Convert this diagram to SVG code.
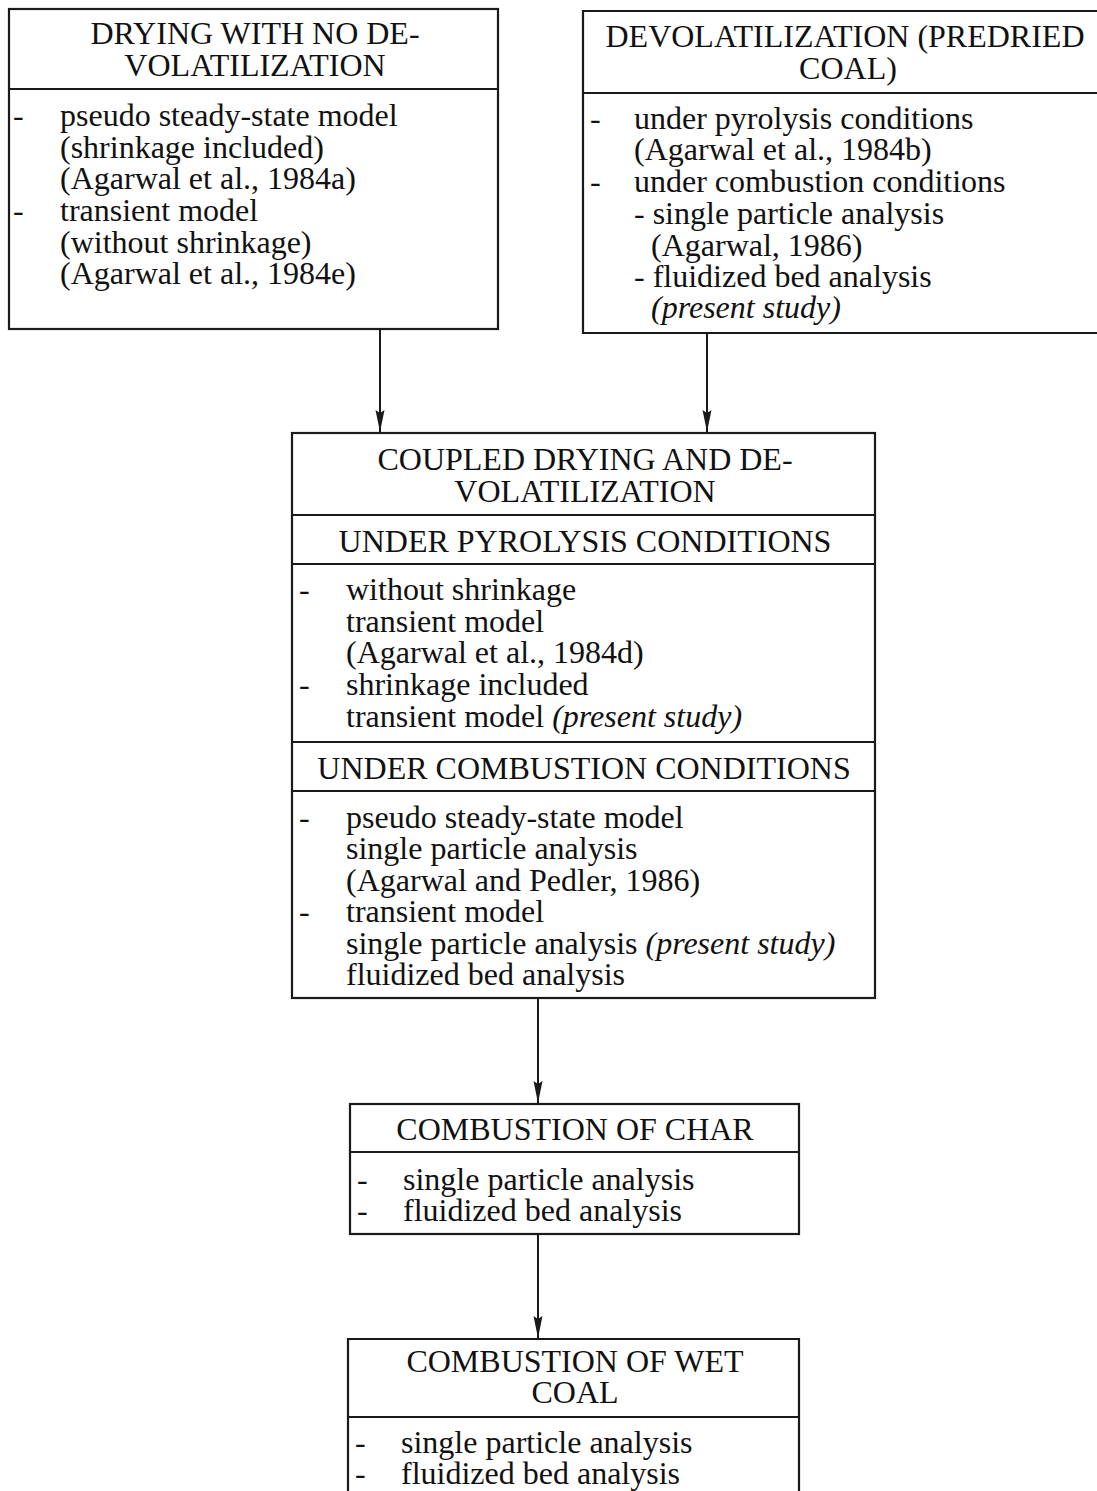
<svg xmlns="http://www.w3.org/2000/svg" width="1097" height="1491" viewBox="0 0 1097 1491">
<defs>
<style>
.box{fill:none;stroke:#1a1a1a;stroke-width:2.2}
.ln{stroke:#1a1a1a;stroke-width:2.2}
text{font-family:"Liberation Serif","Times New Roman",serif;font-size:32px;fill:#111}
.c{text-anchor:middle}
.i{font-style:italic}
.conn{stroke:#1a1a1a;stroke-width:2;fill:none;marker-end:url(#ah)}
</style>
<marker id="ah" markerWidth="22" markerHeight="10" refX="22" refY="5" orient="auto" markerUnits="userSpaceOnUse" viewBox="0 0 22 10">
<path d="M0,0.5 L22,5 L0,9.5 L3,5 Z" fill="#1a1a1a"/>
</marker>
</defs>
<rect width="1097" height="1491" fill="#fff"/>

<g id="connectors">
<line class="conn" x1="380" y1="330" x2="380" y2="432"/>
<line class="conn" x1="707" y1="334" x2="707" y2="432"/>
<line class="conn" x1="538" y1="998" x2="538" y2="1103"/>
<line class="conn" x1="538" y1="1235" x2="538" y2="1338"/>
</g>

<g id="drying">
<rect class="box" x="9" y="9" width="489" height="320"/>
<line class="ln" x1="9" y1="89" x2="498" y2="89"/>
<text class="c" x="255" y="44">DRYING WITH NO DE-</text>
<text class="c" x="255" y="76">VOLATILIZATION</text>
<text x="13" y="126">-</text>
<text x="60" y="126">pseudo steady-state model</text>
<text x="60" y="158">(shrinkage included)</text>
<text x="60" y="189">(Agarwal et al., 1984a)</text>
<text x="13" y="221">-</text>
<text x="60" y="221">transient model</text>
<text x="60" y="253">(without shrinkage)</text>
<text x="60" y="284">(Agarwal et al., 1984e)</text>
</g>

<g id="devolatilization">
<path class="box" d="M1110,11 L583,11 L583,333 L1110,333"/>
<line class="ln" x1="583" y1="93" x2="1110" y2="93"/>
<text class="c" x="845" y="47">DEVOLATILIZATION (PREDRIED</text>
<text class="c" x="848" y="79">COAL)</text>
<text x="590" y="129">-</text>
<text x="634" y="129">under pyrolysis conditions</text>
<text x="634" y="160">(Agarwal et al., 1984b)</text>
<text x="590" y="192">-</text>
<text x="634" y="192">under combustion conditions</text>
<text x="634" y="224">- single particle analysis</text>
<text x="651" y="256">(Agarwal, 1986)</text>
<text x="634" y="287">- fluidized bed analysis</text>
<text class="i" x="651" y="318">(present study)</text>
</g>

<g id="coupled">
<rect class="box" x="292" y="433" width="583" height="565"/>
<line class="ln" x1="292" y1="515" x2="875" y2="515"/>
<line class="ln" x1="292" y1="564" x2="875" y2="564"/>
<line class="ln" x1="292" y1="742" x2="875" y2="742"/>
<line class="ln" x1="292" y1="791" x2="875" y2="791"/>
<text class="c" x="585" y="470">COUPLED DRYING AND DE-</text>
<text class="c" x="585" y="502">VOLATILIZATION</text>
<text class="c" x="585" y="552">UNDER PYROLYSIS CONDITIONS</text>
<text x="299" y="600">-</text>
<text x="346" y="600">without shrinkage</text>
<text x="346" y="632">transient model</text>
<text x="346" y="663">(Agarwal et al., 1984d)</text>
<text x="299" y="695">-</text>
<text x="346" y="695">shrinkage included</text>
<text x="346" y="727">transient model <tspan class="i">(present study)</tspan></text>
<text class="c" x="584" y="779">UNDER COMBUSTION CONDITIONS</text>
<text x="299" y="828">-</text>
<text x="346" y="828">pseudo steady-state model</text>
<text x="346" y="859">single particle analysis</text>
<text x="346" y="891">(Agarwal and Pedler, 1986)</text>
<text x="299" y="922">-</text>
<text x="346" y="922">transient model</text>
<text x="346" y="954">single particle analysis <tspan class="i">(present study)</tspan></text>
<text x="346" y="985">fluidized bed analysis</text>
</g>

<g id="char">
<rect class="box" x="350" y="1104" width="449" height="130"/>
<line class="ln" x1="350" y1="1152" x2="799" y2="1152"/>
<text class="c" x="575" y="1140">COMBUSTION OF CHAR</text>
<text x="357" y="1190">-</text>
<text x="403" y="1190">single particle analysis</text>
<text x="357" y="1221">-</text>
<text x="403" y="1221">fluidized bed analysis</text>
</g>

<g id="wetcoal">
<path class="box" d="M348,1495 L348,1339 L799,1339 L799,1495"/>
<line class="ln" x1="348" y1="1417" x2="799" y2="1417"/>
<text class="c" x="575" y="1372">COMBUSTION OF WET</text>
<text class="c" x="575" y="1403">COAL</text>
<text x="355" y="1453">-</text>
<text x="401" y="1453">single particle analysis</text>
<text x="355" y="1484">-</text>
<text x="401" y="1484">fluidized bed analysis</text>
</g>
</svg>
